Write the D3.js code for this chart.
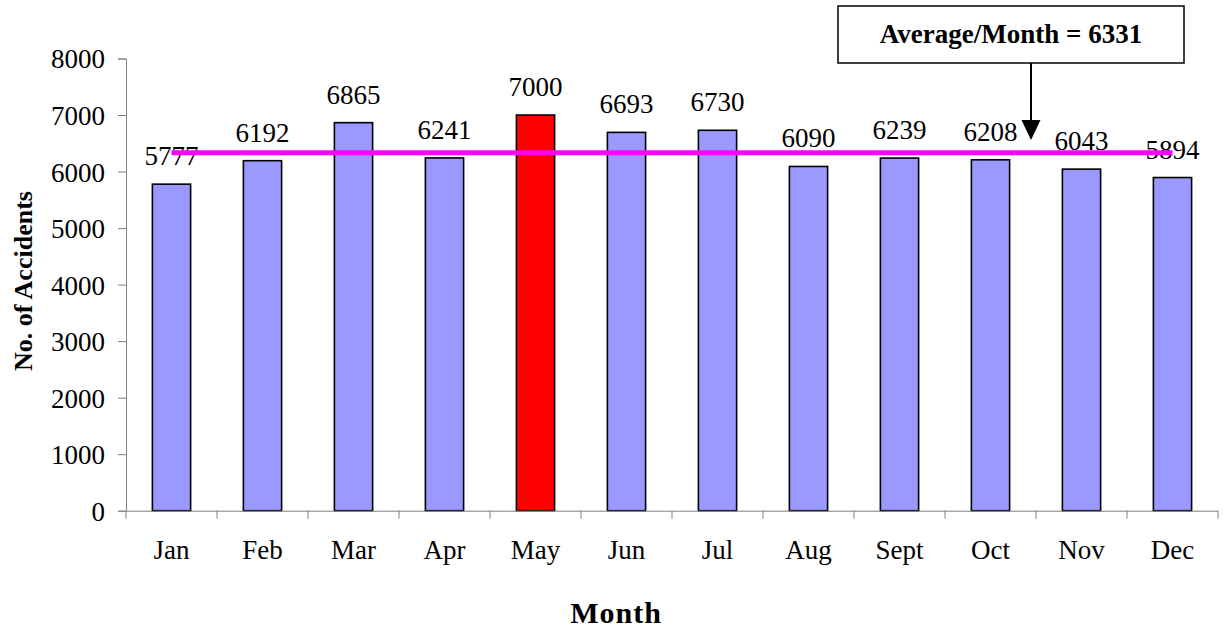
<!DOCTYPE html>
<html>
<head>
<meta charset="utf-8">
<script src="https://cdn.jsdelivr.net/npm/d3@7"></script>
<style>
  body { margin: 0; background: #fff; }
  svg { display: block; font-family: "Liberation Serif", "Times New Roman", serif; }
</style>
</head>
<body>
<svg id="chart" width="1229" height="629"></svg>
<script>
// データ
const months = ["Jan", "Feb", "Mar", "Apr", "May", "Jun", "Jul", "Aug", "Sept", "Oct", "Nov", "Dec"];
const accidents = [5777, 6192, 6865, 6241, 7000, 6693, 6730, 6090, 6239, 6208, 6043, 5894];
const yTicks = [0, 1000, 2000, 3000, 4000, 5000, 6000, 7000, 8000];
const average = 6331;
const highlightMonth = "May";

const svg = d3.select("#chart");
const serif = '"Liberation Serif", "Times New Roman", serif';

// プロット領域
const plotLeft = 126, plotRight = 1218, plotTop = 58.5, plotBottom = 510.7;

const x = d3.scaleBand().domain(months).range([plotLeft, plotRight]).paddingInner(0.58).paddingOuter(0.29);
const xTickScale = d3.scaleBand().domain(months).range([plotLeft, plotRight]);
const y = d3.scaleLinear().domain([0, 8000]).range([plotBottom, plotTop]);

// 棒
svg.append("g").selectAll("rect").data(months)
  .enter().append("rect")
  .attr("x", d => x(d))
  .attr("y", (d, i) => y(accidents[i]))
  .attr("width", x.bandwidth())
  .attr("height", (d, i) => y(0) - y(accidents[i]))
  .attr("fill", d => d === highlightMonth ? "#ff0000" : "#9999ff")
  .attr("stroke", "#000")
  .attr("stroke-width", 1.6);

// Y軸
const yAxis = svg.append("g")
  .attr("transform", `translate(${plotLeft},0)`)
  .call(d3.axisLeft(y).tickValues(yTicks).tickSize(8).tickPadding(13).tickFormat(d3.format("d")));
yAxis.attr("font-family", serif);
yAxis.selectAll("text").style("font-size", "27px").attr("fill", "#000").attr("dy", "0.35em");

// X軸
const xAxis = svg.append("g")
  .attr("transform", `translate(0,${plotBottom})`)
  .call(d3.axisBottom(xTickScale).tickSize(0));
xAxis.attr("font-family", serif);
xAxis.selectAll("text").style("font-size", "27px").attr("fill", "#000").attr("y", 48.5).attr("dy", null);
// 目盛り線はカテゴリ境界に
xAxis.selectAll(".boundary").data(d3.range(months.length + 1))
  .enter().append("line")
  .attr("x1", i => plotLeft + i * xTickScale.step())
  .attr("x2", i => plotLeft + i * xTickScale.step())
  .attr("y1", 0).attr("y2", 8)
  .attr("stroke", "#808080");
svg.selectAll(".domain, .tick line").attr("stroke", "#808080");

// 値ラベル
svg.append("g").selectAll("text").data(months)
  .enter().append("text")
  .attr("x", d => x(d) + x.bandwidth() / 2)
  .attr("y", (d, i) => y(accidents[i]) - 19)
  .attr("text-anchor", "middle")
  .style("font-size", "27px")
  .text((d, i) => accidents[i]);

// 平均線
svg.append("line")
  .attr("x1", x(months[0]) + x.bandwidth() / 2)
  .attr("x2", x(months[months.length - 1]) + x.bandwidth() / 2)
  .attr("y1", y(average)).attr("y2", y(average))
  .attr("stroke", "#ff00ff")
  .attr("stroke-width", 5);

// 注記ボックス
svg.append("rect")
  .attr("x", 838).attr("y", 6).attr("width", 346).attr("height", 57)
  .attr("fill", "#fff").attr("stroke", "#000").attr("stroke-width", 1.5);
svg.append("text")
  .attr("x", 1011).attr("y", 43)
  .attr("text-anchor", "middle")
  .style("font-size", "27px").style("font-weight", "bold")
  .text(`Average/Month = ${average}`);
svg.append("line")
  .attr("x1", 1031).attr("x2", 1031).attr("y1", 63).attr("y2", 122)
  .attr("stroke", "#000").attr("stroke-width", 2);
svg.append("path")
  .attr("d", "M1021.5,120 L1040.5,120 L1031,140 Z")
  .attr("fill", "#000");

// 軸タイトル
svg.append("text")
  .attr("x", 616).attr("y", 623)
  .attr("text-anchor", "middle")
  .style("font-size", "30px").style("font-weight", "bold")
  .style("letter-spacing", "1px")
  .text("Month");
svg.append("text")
  .attr("transform", "translate(32,281) rotate(-90)")
  .attr("text-anchor", "middle")
  .style("font-size", "26px").style("font-weight", "bold")
  .text("No. of Accidents");
</script>
</body>
</html>
